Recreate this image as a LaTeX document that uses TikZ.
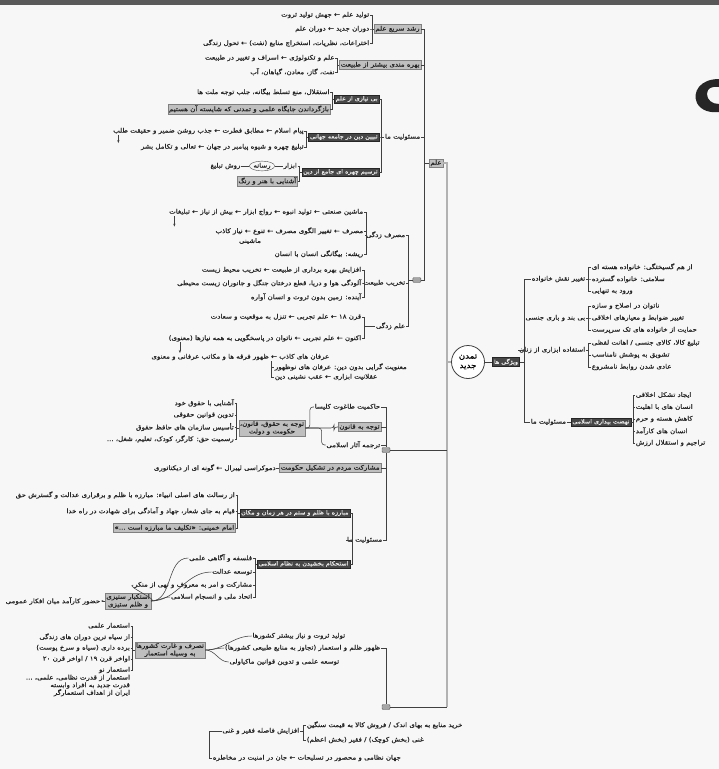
\documentclass[tikz,border=0pt]{standalone}
\usepackage{fontspec}
\newfontfamily\pfont[Script=Arabic, FakeStretch=1.12, FakeBold=0.8]{DejaVu Sans}
\TeXXeTstate=1
\newcommand{\fa}[1]{\beginR #1\endR}
\usetikzlibrary{positioning,shapes.geometric,arrows.meta}
\tikzset{
  txt/.style={inner sep=0.6pt, font=\pfont\fontsize{6.3}{7.6}\selectfont, text=black!85},
  gbox/.style={txt, fill=black!25, draw=black!50, line width=0.3pt, inner sep=1.2pt},
  dbox/.style={txt, font=\pfont\fontsize{5.7}{7}\selectfont, fill=black!72, draw=black!85, text=black!8, inner sep=1.3pt},
  knot/.style={fill=black!35, draw=black!65, rounded corners=1pt, minimum width=8pt, minimum height=5pt, inner sep=0pt},
  link/.style={draw=black!75, line width=0.55pt},
  trunk/.style={draw=black!70, line width=0.5pt, double=black!30, double distance=1.3pt},
}

\begin{document}
\begin{tikzpicture}[x=1pt,y=-1pt]
\useasboundingbox (0,0) rectangle (719,769);
\fill[black!3] (0,0) rectangle (719,769);
\fill[black!65] (0,0) rectangle (719,5);
\fill[black!85] (719,79) .. controls (700,79) and (692,92) .. (697,103) .. controls (701,111) and (711,113) .. (719,112) -- (719,104) .. controls (712,104) and (707,100) .. (707,94) .. controls (707,88) and (712,86) .. (719,87) -- cycle;

% science
\node[gbox] (ilm) at (436,163) {\fa{علم}};
\node[gbox, anchor=east] (rosh) at (421,29) {\fa{رشد سریع علم}};
\node[gbox, anchor=east] (bahre) at (421,65) {\fa{بهره مندی بیشتر از طبیعت}};
\node[txt, anchor=east] (mas1) at (421,137) {\fa{مسئولیت ما}};
\node[knot, anchor=east] (pay) at (421,280) {};
\foreach \c in {rosh,bahre,mas1,pay} \draw[link] (\c.east) -- ++(3,0) |- (ilm.west);

\node[txt, left=4pt of rosh, yshift=14pt] (r1) {\fa{تولید علم ← جهش تولید ثروت}};
\node[txt, left=4pt of rosh] (r2) {\fa{دوران جدید ← دوران علم}};
\node[txt, left=4pt of rosh, yshift=-14pt] (r3) {\fa{اختراعات، نظریات، استخراج منابع (نفت) ← تحول زندگی}};
\foreach \c in {r1,r2,r3} \draw[link] (\c.east) -- ++(2,0) |- (rosh.west);
\node[txt, left=4pt of bahre, yshift=7pt] (b1) {\fa{علم و تکنولوژی ← اسراف و تغییر در طبیعت}};
\node[txt, left=4pt of bahre, yshift=-7pt] (b2) {\fa{نفت، گاز، معادن، گیاهان، آب}};
\foreach \c in {b1,b2} \draw[link] (\c.east) -- ++(2,0) |- (bahre.west);

\node[dbox, left=5pt of mas1, yshift=38pt] (d1) {\fa{بی نیازی از علم}};
\node[dbox, left=5pt of mas1] (d2) {\fa{تبیین دین در جامعه جهانی}};
\node[dbox, left=5pt of mas1, yshift=-35pt] (d3) {\fa{ترسیم چهره ای جامع از دین}};
\foreach \c in {d1,d2,d3} \draw[link] (\c.east) -- ++(2.5,0) |- (mas1.west);

\node[txt, left=4pt of d1, yshift=7pt] (d1a) {\fa{استقلال، منع تسلط بیگانه، جلب توجه ملت ها}};
\node[gbox, left=4pt of d1, yshift=-10pt] (d1b) {\fa{بازگرداندن جایگاه علمی و تمدنی که شایسته آن هستیم}};
\foreach \c in {d1a,d1b} \draw[link] (\c.east) -- ++(2,0) |- (d1.west);
\node[txt, left=4pt of d2, yshift=6pt] (d2a) {\fa{پیام اسلام ← مطابق فطرت ← جذب روشن ضمیر و حقیقت طلب}};
\node[txt, left=4pt of d2, yshift=-10pt] (d2b) {\fa{تبلیغ چهره و شیوه پیامبر در جهان ← تعالی و تکامل بشر}};
\foreach \c in {d2a,d2b} \draw[link] (\c.east) -- ++(2,0) |- (d2.west);
\draw[link, -{Stealth[length=3pt]}] ([xshift=6pt]d2a.south west) -- ([xshift=6pt]d2a.south west |- d2b.north);
\node[txt, left=4pt of d3, yshift=6pt] (abz) {\fa{ابزار}};
\node[ellipse, draw=black!70, txt, inner sep=0.3pt, left=8pt of abz] (rasane) {\fa{رسانه}};
\node[txt, left=8pt of rasane] (ravesh) {\fa{روش تبلیغ}};
\draw[link] (abz.west) -- (rasane.east);
\draw[link] (rasane.west) -- (ravesh.east);
\node[gbox, left=4pt of d3, yshift=-9pt] (d3b) {\fa{آشنایی با هنر و رنگ}};
\foreach \c in {abz,d3b} \draw[link] (\c.east) -- ++(2,0) |- (d3.west);

\node[txt, anchor=east] (s1) at (406,235) {\fa{مصرف زدگی}};
\node[txt, anchor=east] (s2) at (406,283) {\fa{تخریب طبیعت}};
\node[txt, anchor=east] (s3) at (406,326) {\fa{علم زدگی}};
\foreach \c in {s1,s2,s3} \draw[link] (\c.east) -- ++(2,0) |- (pay.west);

\node[txt, anchor=east] (s1a) at (364,212) {\fa{ماشین صنعتی ← تولید انبوه ← رواج ابزار ← بیش از نیاز ← تبلیغات}};
\node[txt, anchor=east] (s1b) at (364,231) {\fa{مصرف ← تغییر الگوی مصرف ← تنوع ← نیاز کاذب}};
\node[txt] (s1d) at (250,241) {\fa{ماشینی}};
\node[txt, anchor=east] (s1c) at (364,254) {\fa{ریشه: بیگانگی انسان با انسان}};
\foreach \c in {s1a,s1b,s1c} \draw[link] (\c.east) -- ++(2,0) |- (s1.west);
\draw[link, -{Stealth[length=3pt]}] ([xshift=6pt]s1a.south west) -- ([xshift=6pt]s1a.south west |- s1b.north);

\node[txt, anchor=east] (s2a) at (362,270) {\fa{افزایش بهره برداری از طبیعت ← تخریب محیط زیست}};
\node[txt, anchor=east] (s2b) at (362,283) {\fa{آلودگی هوا و دریا، قطع درختان جنگل و جانوران زیست محیطی}};
\node[txt, anchor=east] (s2c) at (362,297) {\fa{آینده: زمین بدون ثروت و انسان آواره}};
\foreach \c in {s2a,s2b,s2c} \draw[link] (\c.east) -- ++(2,0) |- (s2.west);

\node[txt, anchor=east] (s3a) at (362,317) {\fa{قرن ۱۸ ← علم تجربی ← تنزل به موقعیت و سعادت}};
\node[txt, anchor=east] (s3b) at (362,338) {\fa{اکنون ← علم تجربی ← ناتوان در پاسخگویی به همه نیازها (معنوی)}};
\foreach \c in {s3a,s3b} \draw[link] (\c.east) -- ++(2,0) |- (s3.west);
\node[txt, anchor=east] (s3c) at (330,357) {\fa{عرفان های کاذب ← ظهور فرقه ها و مکاتب عرفانی و معنوی}};
\draw[link, -{Stealth[length=3pt]}] ([xshift=12pt]s3b.south west) -- ([xshift=12pt]s3b.south west |- s3c.north);
\node[txt, anchor=west] (s3d) at (274,367) {\fa{معنویت گرایی بدون دین: عرفان های نوظهور}};
\node[txt, anchor=west] (s3e) at (274,377) {\fa{عقلانیت ابزاری ← عقب نشینی دین}};
\draw[link] (s3e.west) -- ++(-3,0) |- (s3d.west);
\draw[link] ([xshift=-3pt]s3d.west) -- ([xshift=-3pt]s3d.west |- s3c.south);

% centre and trunk
\node[circle, draw=black!75, line width=0.8pt, fill=white, inner sep=0.5pt, minimum size=33pt, align=center, font=\pfont\fontsize{7.8}{9.5}\selectfont] (tamadon) at (468,362) {\fa{تمدن}\\\fa{جدید}};
\coordinate (tend) at (447,707);
\draw[trunk] (ilm.east) -| (tend);
\draw[trunk] (tamadon.west) -- (tamadon.west -| tend);

% law and state
\node[knot] (gam) at (386,450) {};
\draw[link] (gam.east) -- (gam.east -| tend);
\node[txt, anchor=east] (g1) at (381,407) {\fa{حاکمیت طاغوت کلیسا}};
\node[gbox, anchor=east] (g2) at (381,427) {\fa{توجه به قانون}};
\node[txt, anchor=east] (g3) at (381,445) {\fa{ترجمه آثار اسلامی}};
\node[gbox, anchor=east] (g4) at (381,468) {\fa{مشارکت مردم در تشکیل حکومت}};
\node[txt, anchor=east] (g5) at (383,540) {\fa{مسئولیت ما}};
\foreach \c in {g1,g2,g3,g4,g5} \draw[link] (\c.east) -| (gam);

\node[gbox, align=center] (gq) at (272,428) {\fa{توجه به حقوق، قانون،}\\\fa{حکومت و دولت}};
\foreach \c in {g1,g2,g3} \draw[link, rounded corners=3pt] (\c.west) -- ++(-4,0) |- (gq.east);
\node[txt, left=4pt of gq, yshift=25pt] (q1) {\fa{آشنایی با حقوق خود}};
\node[txt, left=4pt of gq, yshift=13pt] (q2) {\fa{تدوین قوانین حقوقی}};
\node[txt, left=4pt of gq, yshift=1pt] (q3) {\fa{تأسیس سازمان های حافظ حقوق}};
\node[txt, left=4pt of gq, yshift=-11pt] (q4) {\fa{رسمیت حق: کارگر، کودک، تعلیم، شغل، ...}};
\foreach \c in {q1,q2,q3,q4} \draw[link] (\c.east) -- ++(2,0) |- (gq.west);
\node[txt, left=3pt of g4] (g4a) {\fa{دموکراسی لیبرال ← گونه ای از دیکتاتوری}};
\draw[link] (g4.west) -- (g4a.east);

\node[dbox, anchor=east] (d4) at (350,513) {\fa{مبارزه با ظلم و ستم در هر زمان و مکان}};
\node[dbox, anchor=east] (d5) at (350,564) {\fa{استحکام بخشیدن به نظام اسلامی}};
\foreach \c in {d4,d5} \draw[link] (\c.east) -- ++(2,0) |- (g5.west);
\node[txt, left=4pt of d4, yshift=18pt] (d4a) {\fa{از رسالت های اصلی انبیاء: مبارزه با ظلم و برقراری عدالت و گسترش حق}};
\node[txt, left=4pt of d4, yshift=2pt] (d4b) {\fa{قیام به جای شعار، جهاد و آمادگی برای شهادت در راه خدا}};
\node[gbox, left=4pt of d4, yshift=-15pt] (d4c) {\fa{امام خمینی: «تکلیف ما مبارزه است ...»}};
\foreach \c in {d4a,d4b,d4c} \draw[link] (\c.east) -- ++(2,0) |- (d4.west);
\node[txt, left=4pt of d5, yshift=6pt] (d5a) {\fa{فلسفه و آگاهی علمی}};
\node[txt, left=4pt of d5, yshift=-8pt] (d5b) {\fa{توسعه عدالت}};
\node[txt, left=4pt of d5, yshift=-21pt] (d5c) {\fa{مشارکت و امر به معروف و نهی از منکر}};
\node[txt, left=4pt of d5, yshift=-33pt] (d5d) {\fa{اتحاد ملی و انسجام اسلامی}};
\foreach \c in {d5a,d5b,d5c,d5d} \draw[link] (\c.east) -- ++(2,0) |- (d5.west);
\node[gbox, align=center] (gd) at (128,601) {\fa{استکبار ستیزی}\\\fa{و ظلم ستیزی}};
\foreach \c in {d5a,d5b,d5c,d5d} \draw[link] (gd.east) to[out=0, in=180] (\c.west);
\node[txt, left=4pt of gd] (gl) {\fa{حضور کارآمد میان افکار عمومی}};
\draw[link, -{Stealth[length=2.5pt]}] (gd.west) -- (gl.east);

% colonialism
\node[knot] (del) at (386,707) {};
\draw[link] (del.east) -- (tend);
\node[txt, anchor=east] (e0) at (346,636) {\fa{تولید ثروت و نیاز بیشتر کشورها}};
\node[txt, anchor=east] (e1) at (381,648) {\fa{ظهور ظلم و استعمار (تجاوز به منابع طبیعی کشورها)}};
\node[txt, anchor=east] (e2) at (340,662) {\fa{توسعه علمی و تدوین قوانین ماکیاولی}};
\draw[link] (e1.east) -| (del);
\node[gbox, align=center] (ge) at (170,650) {\fa{تصرف و غارت کشورها}\\\fa{به وسیله استعمار}};
\foreach \c in {e0,e1,e2} \draw[link] (ge.east) to[out=0, in=180] (\c.west);
\node[txt, left=4pt of ge, yshift=24pt] (x0) {\fa{استعمار علمی}};
\node[txt, left=4pt of ge, yshift=13pt] (x1) {\fa{از سیاه ترین دوران های زندگی}};
\node[txt, left=4pt of ge, yshift=2pt] (x2) {\fa{برده داری (سیاه و سرخ پوست)}};
\node[txt, left=4pt of ge, yshift=-9pt] (x3) {\fa{اواخر قرن ۱۹ / اواخر قرن ۲۰}};
\node[txt, left=4pt of ge, yshift=-20pt] (x4) {\fa{استعمار نو}};
\foreach \c in {x0,x1,x2,x3,x4} \draw[link] (\c.east) -- ++(2,0) |- (ge.west);
\node[txt, align=right, anchor=north east] (nou) at (x4.south east) {\fa{استعمار از قدرت نظامی، علمی، ...}\\\fa{قدرت جدید به افراد وابسته}\\\fa{ایران از اهداف استعمارگر}};

\node[txt, anchor=east] (f1) at (300,731) {\fa{افزایش فاصله فقیر و غنی}};
\node[txt, anchor=west] (f1a) at (306,725) {\fa{خرید منابع به بهای اندک / فروش کالا به قیمت سنگین}};
\node[txt, anchor=west] (f1b) at (306,740) {\fa{غنی (بخش کوچک) / فقیر (بخش اعظم)}};
\foreach \c in {f1a,f1b} \draw[link] (\c.west) -- ++(-3,0) |- (f1.east);
\node[txt, anchor=west] (f2) at (212,758) {\fa{جهان نظامی و محصور در تسلیحات ← جان در امنیت در مخاطره}};
\draw[link] (f2.west) -- ++(-3,0) |- (f1.west);

% family and women
\node[dbox] (vizh) at (506,362) {\fa{ویژگی ها}};
\draw[link] (tamadon.east) -- (vizh.west);
\coordinate (vk) at (524,362);
\draw[link] (vizh.east) -- (vk);
\node[txt, anchor=east] (k1) at (586,279) {\fa{تغییر نقش خانواده}};
\node[txt, anchor=east] (k2) at (586,318) {\fa{بی بند و باری جنسی}};
\node[txt, anchor=east] (k3) at (586,350) {\fa{استفاده ابزاری از زنان}};
\node[txt, anchor=west] (rm) at (530,422) {\fa{مسئولیت ما}};
\foreach \c in {k1,k2,k3,rm} \draw[link] (\c.west) -| (vk);
\node[txt, right=5pt of k1, yshift=12pt] (k1a) {\fa{از هم گسیختگی: خانواده هسته ای}};
\node[txt, right=5pt of k1] (k1b) {\fa{سلامتی: خانواده گسترده}};
\node[txt, right=5pt of k1, yshift=-12pt] (k1c) {\fa{ورود به تنهایی}};
\foreach \c in {k1a,k1b,k1c} \draw[link] (\c.west) -- ++(-2.5,0) |- (k1.east);
\node[txt, right=5pt of k2, yshift=12pt] (k2a) {\fa{ناتوان در اصلاح و سازه}};
\node[txt, right=5pt of k2] (k2b) {\fa{تغییر ضوابط و معیارهای اخلاقی}};
\node[txt, right=5pt of k2, yshift=-12pt] (k2c) {\fa{حمایت از خانواده های تک سرپرست}};
\foreach \c in {k2a,k2b,k2c} \draw[link] (\c.west) -- ++(-2.5,0) |- (k2.east);
\node[txt, right=5pt of k3, yshift=7pt] (k3a) {\fa{تبلیغ کالا، کالای جنسی / اهانت لفظی}};
\node[txt, right=5pt of k3, yshift=-5pt] (k3b) {\fa{تشویق به پوشش نامناسب}};
\node[txt, right=5pt of k3, yshift=-17pt] (k3c) {\fa{عادی شدن روابط نامشروع}};
\foreach \c in {k3a,k3b,k3c} \draw[link] (\c.west) -- ++(-2.5,0) |- (k3.east);
\node[dbox, right=4pt of rm] (rmd) {\fa{نهضت بیداری اسلامی}};
\draw[link] (rm.east) -- (rmd.west);
\node[txt, right=4pt of rmd, yshift=27pt] (n1) {\fa{ایجاد تشکل اخلاقی}};
\node[txt, right=4pt of rmd, yshift=15pt] (n2) {\fa{انسان های با اهلیت}};
\node[txt, right=4pt of rmd, yshift=3pt] (n3) {\fa{کاهش هسته و حرم}};
\node[txt, right=4pt of rmd, yshift=-9pt] (n4) {\fa{انسان های کارآمد}};
\node[txt, right=4pt of rmd, yshift=-21pt] (n5) {\fa{تراجیم و استقلال ارزش}};
\foreach \c in {n1,n2,n3,n4,n5} \draw[link] (\c.west) -- ++(-2,0) |- (rmd.east);
\end{tikzpicture}
\end{document}
